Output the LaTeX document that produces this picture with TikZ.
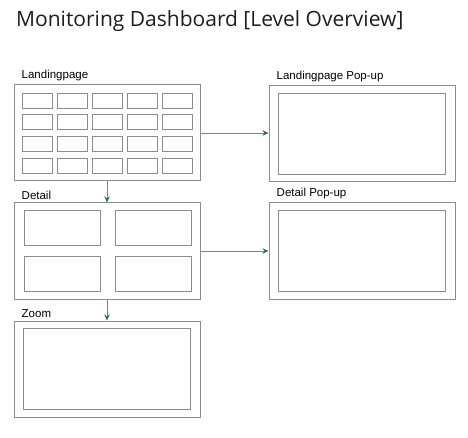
\documentclass[tikz,border=0pt]{standalone}
\usepackage{fontspec}
\setmainfont{Liberation Sans}
\newfontfamily\titlefont{Open Sans}
\usetikzlibrary{arrows.meta,positioning}
\definecolor{RandGrau}{HTML}{8C8C8C}
\definecolor{PfeilTeal}{HTML}{2B6A78}
\definecolor{TitelText}{HTML}{1E1E1E}

\begin{document}
\begin{tikzpicture}[x=1pt,y=-1pt,font=\fontsize{11.5}{13}\selectfont,>=Stealth,
 rahmen/.style={draw=RandGrau,line width=1pt,minimum width=186pt,minimum height=96pt,inner sep=0pt},
 kachel/.style={draw=RandGrau,line width=1pt,inner sep=0pt},
 titel/.style={anchor=south west,inner sep=0pt,text=black},
 pfeil/.style={->,draw=PfeilTeal!75,line width=0.7pt,arrows={-Stealth[length=6pt,width=5.5pt,fill=PfeilTeal,color=PfeilTeal]}}]
\useasboundingbox (0,0) rectangle (468,438);
\node[anchor=west,inner sep=0pt,text=TitelText,font=\titlefont\fontsize{21}{25}\selectfont] (kopf) at (16,21) {Monitoring Dashboard [Level Overview]};
% linke Spalte
\node[rahmen] (lp) at (107,133) {};
\node[rahmen] (dt) at (107,251) {};
\node[rahmen] (zm) at (107,369) {};
% rechte Spalte
\node[rahmen] (lpp) at (362,134) {};
\node[rahmen] (dpp) at (362,251) {};
\node[titel,above=3pt of lp.north west,anchor=south west,xshift=8pt] (lpt) {Landingpage};
\node[titel,above=3pt of dt.north west,anchor=south west,xshift=8pt] (dtt) {Detail};
\node[titel,above=3pt of zm.north west,anchor=south west,xshift=8pt] (zmt) {Zoom};
\node[titel,above=3pt of lpp.north west,anchor=south west,xshift=8pt] (lppt) {Landingpage Pop-up};
\node[titel,above=3pt of dpp.north west,anchor=south west,xshift=8pt] (dppt) {Detail Pop-up};
% Kacheln
\foreach \s in {0,...,4}{
 \foreach \z in {0,...,3}{
  \node[kachel,minimum width=30pt,minimum height=15pt] (k\s\z) at (37.7+35*\s,100.8+21.7*\z) {};
 }
}
\foreach \s in {0,1}{
 \foreach \z in {0,1}{
  \node[kachel,minimum width=76pt,minimum height=35pt] (d\s\z) at (62+91*\s,228.5+45.3*\z) {};
 }
}
\node[kachel,minimum width=166.7pt,minimum height=81pt] (zmi) at (107.3,368.8) {};
\node[kachel,minimum width=166.7pt,minimum height=81pt] (lppi) at (362.3,133.8) {};
\node[kachel,minimum width=166.7pt,minimum height=81pt] (dppi) at (362.3,251) {};
\draw[pfeil] (lp)--(dt);\draw[pfeil] (dt)--(zm);
\draw[pfeil] (lp.east)--(lp.east-|lpp.west);\draw[pfeil] (dt.east)--(dt.east-|dpp.west);
\end{tikzpicture}
\end{document}
